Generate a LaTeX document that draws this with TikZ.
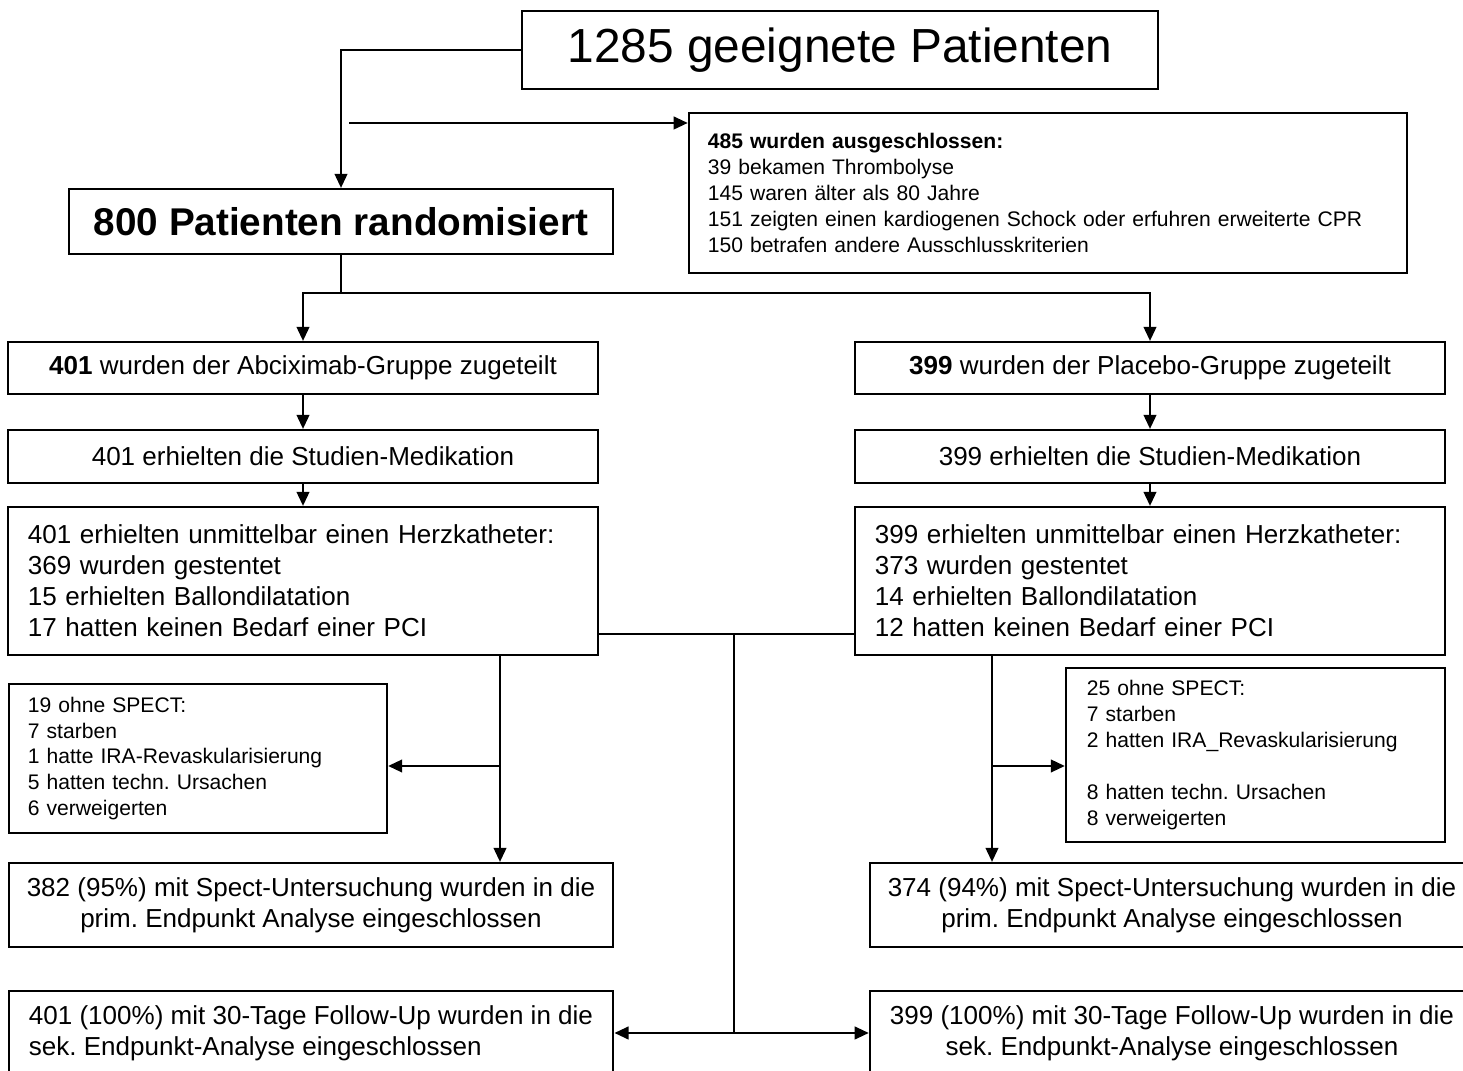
\documentclass[tikz,border=0pt]{standalone}
\usepackage{fontspec}
\setmainfont{Liberation Sans}
\usetikzlibrary{arrows.meta}
\frenchspacing
\newcommand\fbig{\fontsize{13.6}{16}\selectfont}
\newcommand\fmid{\fontsize{11}{13}\selectfont\bfseries}
\newcommand\fnorm{\fontsize{7.4}{8.8}\selectfont}
\newcommand\fsmall{\fontsize{6}{7.35}\selectfont}

\begin{document}
\begin{tikzpicture}[x=0.01cm,y=-0.01cm,line width=0.6pt,
    box/.style={draw,inner sep=0pt,align=center,font=\fnorm},
    lbox/.style={box,align=left},
    arr/.style={-{Triangle[length=4pt,width=3.6pt]}},
    darr/.style={{Triangle[length=4pt,width=3.6pt]}-{Triangle[length=4pt,width=3.6pt]}}]
    \useasboundingbox (0,0) rectangle (1463,1071);
    \clip (0,0) rectangle (1463,1071);
    \node[box,font=\fbig,minimum width=6.36cm,minimum height=0.78cm] (tot) at (840,50) {1285 geeignete Patienten};
    \node[lbox,font=\fsmall,text width=6.8cm,inner xsep=0.19cm,minimum height=1.6cm] (ex) at (1048,193) {\textbf{485 wurden ausgeschlossen:}\\39 bekamen Thrombolyse\\145 waren älter als 80 Jahre\\151 zeigten einen kardiogenen Schock oder erfuhren erweiterte CPR\\150 betrafen andere Ausschlusskriterien\\[3pt]};
    \node[box,font=\fmid,minimum width=5.44cm,minimum height=0.65cm] (rnd) at (341,221.5) {800 Patienten randomisiert};
    \node[box,minimum width=5.9cm,minimum height=0.52cm] (a1) at (303,368) {\textbf{401} wurden der Abciximab-Gruppe zugeteilt};
    \node[box,minimum width=5.9cm,minimum height=0.52cm] (p1) at (1150,368) {\textbf{399} wurden der Placebo-Gruppe zugeteilt};
    \node[box,minimum width=5.9cm,minimum height=0.53cm] (a2) at (303,456.5) {401 erhielten die Studien-Medikation};
    \node[box,minimum width=5.9cm,minimum height=0.53cm] (p2) at (1150,456.5) {399 erhielten die Studien-Medikation};
    \node[lbox,text width=5.5cm,inner xsep=0.2cm,minimum height=1.48cm] (a3) at (303,581) {401 erhielten unmittelbar einen Herzkatheter:\\369 wurden gestentet\\15 erhielten Ballondilatation\\17 hatten keinen Bedarf einer PCI};
    \node[lbox,text width=5.5cm,inner xsep=0.2cm,minimum height=1.48cm] (p3) at (1150,581) {399 erhielten unmittelbar einen Herzkatheter:\\373 wurden gestentet\\14 erhielten Ballondilatation\\12 hatten keinen Bedarf einer PCI};
    \node[lbox,font=\fsmall,text width=3.4cm,inner xsep=0.19cm,minimum height=1.49cm] (as) at (198,758.5) {19 ohne SPECT:\\7 starben\\1 hatte IRA-Revaskularisierung\\5 hatten techn. Ursachen\\6 verweigerten};
    \node[lbox,font=\fsmall,text width=3.37cm,inner xsep=0.21cm,minimum height=1.74cm] (ps) at (1255.5,755) {25 ohne SPECT:\\7 starben\\2 hatten IRA\_Revaskularisierung\\[7.35pt]8 hatten techn. Ursachen\\8 verweigerten};
    \node[box,minimum width=6.045cm,minimum height=0.84cm] (a4) at (311,905) {382 (95\%) mit Spect-Untersuchung wurden in die\\prim. Endpunkt Analyse eingeschlossen};
    \node[box,minimum width=6.04cm,minimum height=0.84cm] (p4) at (1172,905) {374 (94\%) mit Spect-Untersuchung wurden in die\\prim. Endpunkt Analyse eingeschlossen};
    \node[lbox,minimum width=6.045cm,minimum height=0.84cm] (a5) at (311,1033) {401 (100\%) mit 30-Tage Follow-Up wurden in die\\sek. Endpunkt-Analyse eingeschlossen};
    \node[box,minimum width=6.04cm,minimum height=0.84cm] (p5) at (1172,1033) {399 (100\%) mit 30-Tage Follow-Up wurden in die\\sek. Endpunkt-Analyse eingeschlossen};
    \coordinate (sp) at (349,123);
    \coordinate (fk) at (341,293);
    \coordinate (md) at (734,634);
    \coordinate (mb) at (734,1033);
    \coordinate (lb) at (500,766);
    \coordinate (rb) at (992,766);
    \draw[arr] (tot.west) -| (rnd.north);
    \draw[arr] (sp) -- (sp -| ex.west);
    \draw[line width=0.3pt] (rnd.south) -- (fk);
    \draw[arr] (fk) -| (a1.north);
    \draw[arr] (fk) -| (p1.north);
    \draw[arr] (a1) -- (a2);
    \draw[arr] (p1) -- (p2);
    \draw[arr] (a2) -- (a3);
    \draw[arr] (p2) -- (p3);
    \draw (md -| a3.east) -- (md -| p3.west);
    \draw (md) -- (mb);
    \draw[darr] (mb -| a5.east) -- (mb -| p5.west);
    \draw[arr] (lb |- a3.south) -- (lb |- a4.north);
    \draw[arr] (lb) -- (lb -| as.east);
    \draw[arr] (rb |- p3.south) -- (rb |- p4.north);
    \draw[arr] (rb) -- (rb -| ps.west);
\end{tikzpicture}
\end{document}
